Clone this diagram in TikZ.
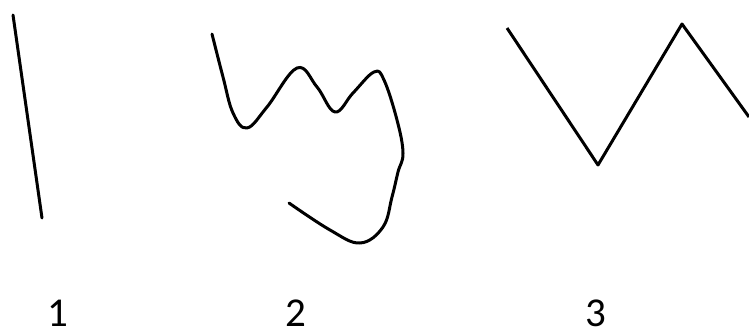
\documentclass[tikz,border=0pt]{standalone}
\usepackage{fontspec}
\setmainfont{Carlito}
\begin{document}
\begin{tikzpicture}[x=1pt,y=-1pt,
  stroke/.style={line width=3pt,line cap=round,line join=round,black},
  lbl/.style={font=\fontsize{41}{41}\selectfont,inner sep=0pt,anchor=base}]
\useasboundingbox[fill=white] (0,0) rectangle (749,331);
% figure 1
\draw[stroke] (13,15) -- (42,218);
% figure 2
\draw[stroke] plot[smooth,tension=0.65] coordinates {
 (212,34) (223,77) (233,113) (247,128) (267,107) (297,68) (317,87) (335,112)
 (353,93) (374,72) (384,80) (397,120) (403,153) (398,172) (392,197) (383,227)
 (360,243) (330,230) (289,203)};
% figure 3
\draw[stroke,line cap=butt] (507,28) -- (598,165) -- (682,24) -- (749,117);
% labels
\node[lbl] (l1) at (58,326) {1};
\node[lbl] (l2) at (296,326) {2};
\node[lbl] (l3) at (596,326) {3};
\end{tikzpicture}
\end{document}
